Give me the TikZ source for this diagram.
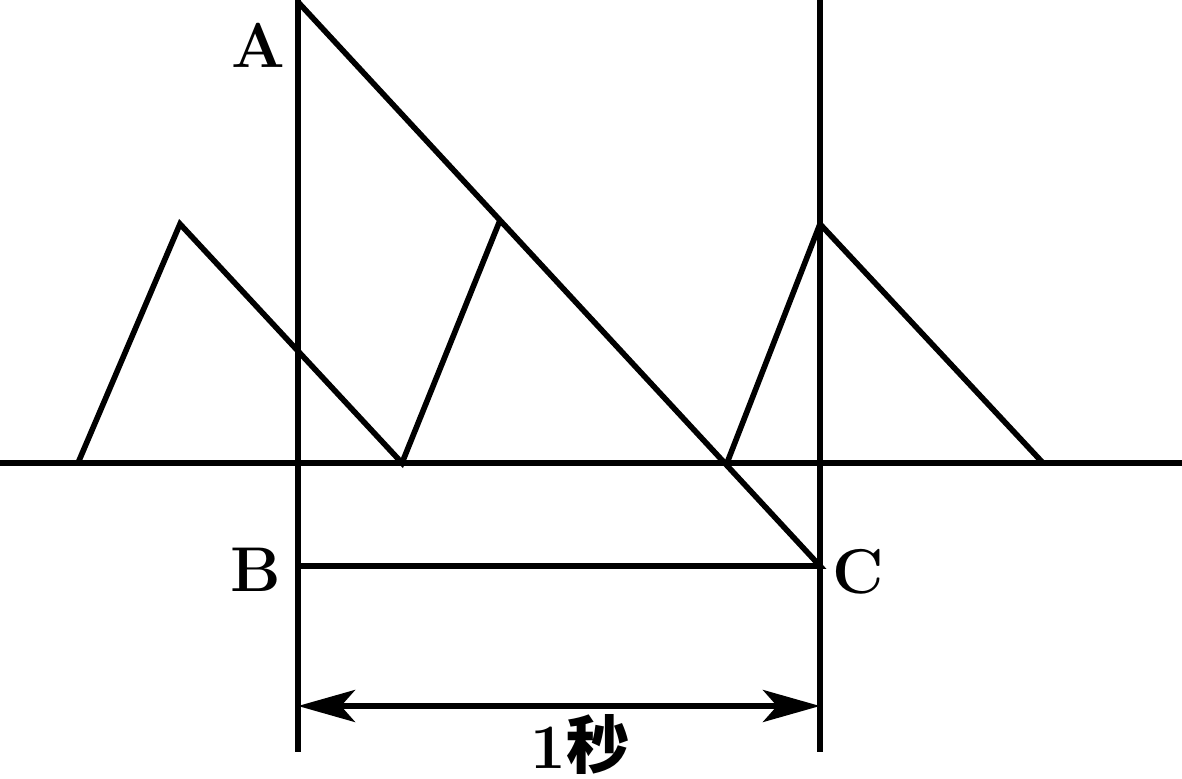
\documentclass[tikz,border=0pt]{standalone}
\usepackage{fontspec}
\newfontfamily\cjk{Noto Sans CJK SC}
\usetikzlibrary{arrows.meta,calc}
\begin{document}
\begin{tikzpicture}[line width=1.6pt, every node/.style={font=\fontsize{18}{20}\selectfont\bfseries},
  spanarrow/.style={{Stealth[length=5.7mm,width=3.2mm,inset=1.4mm]}-{Stealth[length=5.7mm,width=3.2mm,inset=1.4mm]}}]
  \useasboundingbox (0,0) rectangle (11.82,7.78);
  \coordinate (A) at (2.98,7.76); \coordinate (B) at (2.98,2.12); \coordinate (C) at (8.20,2.12);
  \coordinate (L0) at (0,3.15); \coordinate (L1) at (11.82,3.15);
  \coordinate (T1) at (2.98,7.78); \coordinate (U1) at (2.98,0.26);
  \coordinate (T2) at (8.20,7.78); \coordinate (U2) at (8.20,0.26);
  \coordinate (P1) at (0.78,3.15); \coordinate (Q1) at (1.80,5.54);
  \coordinate (P2) at (4.02,3.15); \coordinate (Q2) at ($(A)!0.387!(C)$);
  \coordinate (P3) at (7.27,3.15); \coordinate (Q3) at (8.20,5.54); \coordinate (P4) at (10.43,3.15);
  \coordinate (D1) at (2.98,0.72); \coordinate (D2) at (8.20,0.72);
  \draw (L0)--(L1); \draw (T1)--(U1); \draw (T2)--(U2);
  \draw (A)--(C)--(B);
  \draw (P1)--(Q1)--(P2)--(Q2);
  \draw (P3)--(Q3)--(P4);
  \draw[spanarrow] (D1)--(D2);
  \node (lA) at (2.58,7.33) {A};
  \node (lB) at (2.56,2.08) {B};
  \node (lC) at (8.58,2.06) {C};
  \node (lT) at (5.80,0.34) {1{\cjk 秒}};
\end{tikzpicture}
\end{document}
